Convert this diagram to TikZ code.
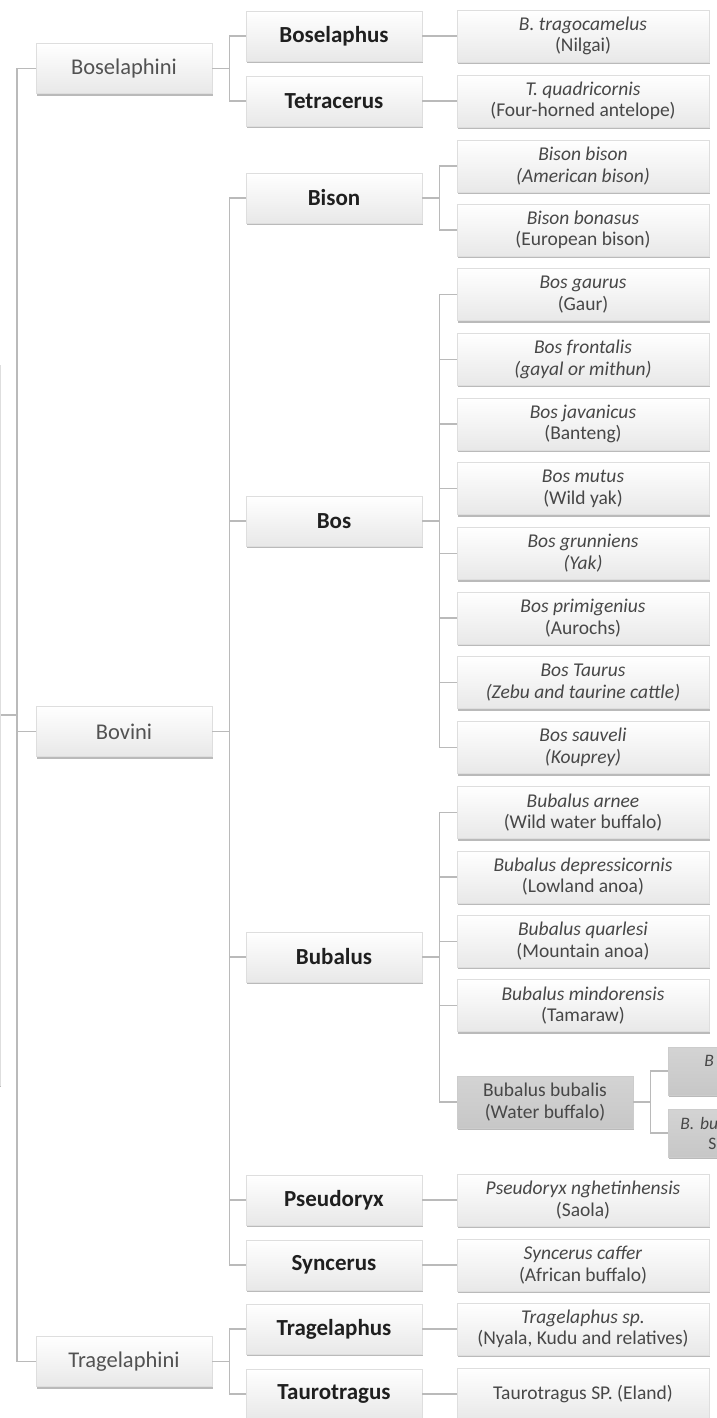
\documentclass[tikz,border=0pt]{standalone}
\usepackage{fontspec}
\setmainfont{Carlito}
\usetikzlibrary{shadows}

\begin{document}
\begin{tikzpicture}[x=1pt,y=-1pt,
  box/.style={draw=black!13, line width=.6pt, top color=white, bottom color=black!9,
    drop shadow={shadow xshift=.5pt, shadow yshift=-2.2pt, fill=black!45, opacity=.6},
    inner sep=0pt, align=center},
  graybox/.style={box, top color=black!17, bottom color=black!22, draw=black!20},
  tribe/.style={box, minimum width=176, minimum height=50, text=black!68,
    font=\fontsize{22.5}{26}\selectfont},
  genus/.style={box, minimum width=176, minimum height=50, text=black!88,
    font=\bfseries\fontsize{23}{27}\selectfont},
  spec/.style={box, minimum width=252, minimum height=52, text=black!72,
    font=\fontsize{19.5}{21.5}\selectfont},
  link/.style={draw=black!27, line width=1.4pt}]
\useasboundingbox (0,0) rectangle (717,1418);

\node[box, minimum width=90, minimum height=720, anchor=east] (root) at (1,725) {};

\node[tribe] (bsl) at (124,68.5) {Boselaphini};
\node[tribe] (bov) at (124,731.5) {Bovini};
\node[tribe] (trg) at (124,1361.5) {Tragelaphini};
\foreach \t in {bsl,bov,trg}
  \draw[link] (root.east|-0,715) -- ++(16,0) |- (\t.west);

\node[genus] (bosel) at (334,36) {Boselaphus};
\node[genus] (tetra) at (334,101) {Tetracerus};
\node[genus] (bison) at (334,198) {Bison};
\node[genus] (bos) at (334,521) {Bos};
\node[genus] (bub) at (334,957) {Bubalus};
\node[genus] (pseud) at (334,1200) {Pseudoryx};
\node[genus] (sync) at (334,1265) {Syncerus};
\node[genus] (tragl) at (334,1329) {Tragelaphus};
\node[genus] (tauro) at (334,1394) {Taurotragus};
\foreach \g in {bosel,tetra}
  \draw[link] (bsl.east) -- ++(17,0) |- (\g.west);
\foreach \g in {bison,bos,bub,pseud,sync}
  \draw[link] (bov.east) -- ++(17,0) |- (\g.west);
\foreach \g in {tragl,tauro}
  \draw[link] (trg.east) -- ++(17,0) |- (\g.west);

\node[spec] (nilg) at (583,36) {\textit{B. tragocamelus}\\(Nilgai)};
\node[spec] (four) at (583,101) {\textit{T. quadricornis}\\(Four-horned antelope)};
\node[spec] (amb) at (583,166) {\textit{Bison bison}\\\textit{(American bison)}};
\node[spec] (eub) at (583,230) {\textit{Bison bonasus}\\(European bison)};
\draw[link] (bosel.east) -- (nilg.west);
\draw[link] (tetra.east) -- (four.west);
\foreach \s in {amb,eub}
  \draw[link] (bison.east) -- ++(17,0) |- (\s.west);

\foreach \nm [count=\i from 0] in {{\textit{Bos gaurus}\\(Gaur)},
    {\textit{Bos frontalis}\\\textit{(gayal or mithun)}},
    {\textit{Bos javanicus}\\(Banteng)},
    {\textit{Bos mutus}\\(Wild yak)},
    {\textit{Bos grunniens}\\\textit{(Yak)}},
    {\textit{Bos primigenius}\\(Aurochs)},
    {\textit{Bos Taurus}\\\textit{(Zebu and taurine cattle)}},
    {\textit{Bos sauveli}\\\textit{(Kouprey)}}} {
  \node[spec] (bos\i) at (583,{294.5+64.7*\i}) {\nm};
  \draw[link] (bos.east) -- ++(17,0) |- (bos\i.west);
}

\foreach \nm [count=\i from 0] in {{\textit{Bubalus arnee}\\(Wild water buffalo)},
    {\textit{Bubalus depressicornis}\\(Lowland anoa)},
    {\textit{Bubalus quarlesi}\\(Mountain anoa)},
    {\textit{Bubalus mindorensis}\\(Tamaraw)}} {
  \node[spec] (bub\i) at (583,{812.4+64.4*\i}) {\nm};
  \draw[link] (bub.east) -- ++(17,0) |- (bub\i.west);
}
\node[graybox, minimum width=176, minimum height=52, text=black!72,
  font=\fontsize{19.5}{21.5}\selectfont] (wbuf) at (545,1102) {Bubalus bubalis\\(Water buffalo)};
\draw[link] (bub.east) -- ++(17,0) |- (wbuf.west);

\node[graybox, minimum width=250, minimum height=48, anchor=west, text width=236,
  align=left, inner xsep=7pt, text=black!72, font=\fontsize{17.5}{20}\selectfont]
  (riv) at (668,1071) {\hspace*{29pt}\textit{B}\\\mbox{}};
\node[graybox, minimum width=250, minimum height=48, anchor=west, text width=236,
  align=left, inner xsep=7pt, text=black!72, font=\fontsize{17.5}{20}\selectfont]
  (swp) at (668,1133) {\hspace*{5pt}\textit{B. bu}\\\hspace*{33pt}S};
\foreach \s in {riv,swp}
  \draw[link] (wbuf.east) -- ++(17,0) |- (\s.west);

\node[spec] (saola) at (583,1200) {\textit{Pseudoryx nghetinhensis}\\(Saola)};
\node[spec] (afb) at (583,1265) {\textit{Syncerus caffer}\\(African buffalo)};
\node[spec] (nyala) at (583,1329) {\textit{Tragelaphus sp.}\\(Nyala, Kudu and relatives)};
\node[spec] (eland) at (583,1394) {Taurotragus SP. (Eland)};
\draw[link] (pseud.east) -- (saola.west);
\draw[link] (sync.east) -- (afb.west);
\draw[link] (tragl.east) -- (nyala.west);
\draw[link] (tauro.east) -- (eland.west);
\end{tikzpicture}
\end{document}
